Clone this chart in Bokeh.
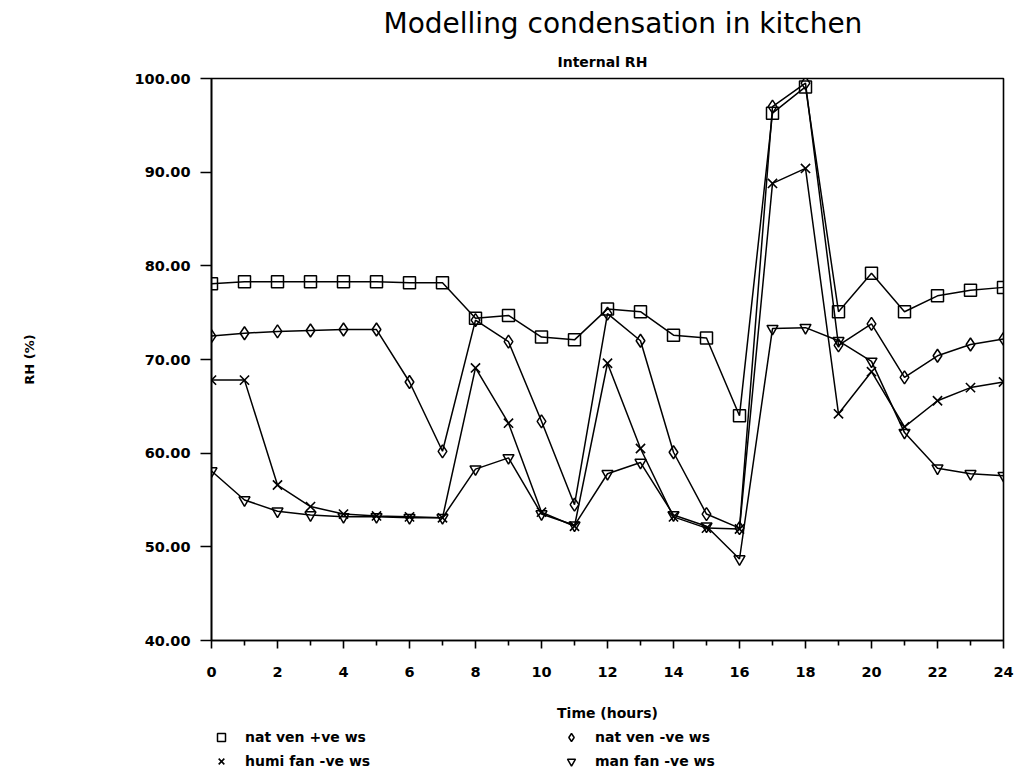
from bokeh.plotting import figure
from bokeh.layouts import column
from bokeh.models import (Range1d, FixedTicker, PrintfTickFormatter, Title,
                          Legend, LegendItem, ColumnDataSource)
from bokeh.embed import file_html
from bokeh.resources import INLINE

hours = list(range(25))
nat_ven_pos = [78.1, 78.3, 78.3, 78.3, 78.3, 78.3, 78.2, 78.2, 74.4, 74.7, 72.4, 72.1,
               75.4, 75.1, 72.6, 72.3, 64.0, 96.3, 99.1, 75.1, 79.2, 75.1, 76.8, 77.4, 77.7]
nat_ven_neg = [72.5, 72.8, 73.0, 73.1, 73.2, 73.2, 67.6, 60.2, 74.2, 71.9, 63.4, 54.5,
               74.9, 72.0, 60.1, 53.5, 52.0, 97.0, 99.5, 71.5, 73.8, 68.1, 70.4, 71.6, 72.2]
humi_fan_neg = [67.8, 67.8, 56.6, 54.3, 53.5, 53.3, 53.2, 53.1, 69.1, 63.2, 53.7, 52.2,
                69.6, 60.5, 53.2, 52.0, 51.9, 88.8, 90.4, 64.2, 68.7, 62.8, 65.6, 67.0, 67.6]
man_fan_neg = [58.1, 55.0, 53.8, 53.4, 53.2, 53.2, 53.1, 53.1, 58.3, 59.5, 53.5, 52.3,
               57.8, 59.0, 53.4, 52.2, 48.7, 73.3, 73.4, 72.0, 69.8, 62.2, 58.4, 57.8, 57.6]

series_names = ["nat ven +ve ws", "humi fan -ve ws", "nat ven -ve ws", "man fan -ve ws"]
x_major = [0, 2, 4, 6, 8, 10, 12, 14, 16, 18, 20, 22, 24]
x_minor = [1, 3, 5, 7, 9, 11, 13, 15, 17, 19, 21, 23]
y_ticks = [40, 50, 60, 70, 80, 90, 100]

FONT = "DejaVu Sans"

p = figure(width=1018, height=725, output_backend="svg", toolbar_location=None,
           x_range=Range1d(0, 24), y_range=Range1d(40, 100),
           min_border_left=211, min_border_right=15, min_border_top=77,
           min_border_bottom=85)
p.background_fill_color = "white"
p.border_fill_color = "white"
p.outline_line_color = "black"
p.outline_line_width = 1.6
p.xgrid.visible = False
p.ygrid.visible = False

for ax in (p.xaxis[0], p.yaxis[0]):
    ax.axis_line_color = "black"
    ax.axis_line_width = 1.6
    ax.major_tick_line_color = "black"
    ax.major_tick_line_width = 1.6
    ax.minor_tick_line_color = "black"
    ax.minor_tick_line_width = 1.6
    ax.major_tick_in = 0
    ax.minor_tick_in = 0
    ax.major_label_text_font = FONT
    ax.major_label_text_font_style = "bold"
    ax.major_label_text_font_size = "14.5px"
    ax.major_label_text_color = "black"
    ax.axis_label_text_font = FONT
    ax.axis_label_text_font_style = "bold"
    ax.axis_label_text_color = "black"

p.xaxis.ticker = FixedTicker(ticks=x_major, minor_ticks=x_minor)
p.xaxis.major_tick_out = 8
p.xaxis.minor_tick_out = 5
p.xaxis.major_label_standoff = 18
p.xaxis.axis_label = "Time (hours)"
p.xaxis.axis_label_text_font_size = "14px"
p.xaxis.axis_label_standoff = 25

p.yaxis.ticker = FixedTicker(ticks=y_ticks, minor_ticks=[])
p.yaxis.formatter = PrintfTickFormatter(format="%.2f")
p.yaxis.major_tick_out = 11
p.yaxis.minor_tick_out = 0
p.yaxis.major_label_standoff = 10
p.yaxis.axis_label = "RH (%)"
p.yaxis.axis_label_text_font_size = "13px"
p.yaxis.axis_label_standoff = 95

src = ColumnDataSource(dict(h=hours, a=nat_ven_pos, b=nat_ven_neg, c=humi_fan_neg, d=man_fan_neg))
LW = 1.5
SQ = dict(marker="square", size=12, fill_color="white", fill_alpha=0,
          line_color="black", line_width=1.5)
DI = dict(marker="diamond", size=13, fill_color="white", fill_alpha=0,
          line_color="black", line_width=1.5)
XX = dict(marker="x", size=13, line_color="black", line_width=1.6)
TR = dict(marker="inverted_triangle", size=11, fill_color="white", fill_alpha=0,
          line_color="black", line_width=1.5)

p.line("h", "a", source=src, line_color="black", line_width=LW)
p.line("h", "b", source=src, line_color="black", line_width=LW)
p.line("h", "c", source=src, line_color="black", line_width=LW)
p.line("h", "d", source=src, line_color="black", line_width=LW)
p.scatter("h", "a", source=src, **SQ)
p.scatter("h", "b", source=src, **DI)
p.scatter("h", "c", source=src, **XX)
p.scatter("h", "d", source=src, **TR)

p.add_layout(Title(text="Internal RH", align="left", offset=346, text_font=FONT,
                   text_font_size="14px", text_font_style="bold",
                   text_color="black", standoff=17), "above")
p.add_layout(Title(text="Modelling condensation in kitchen", align="left",
                   offset=172, text_font=FONT, text_font_size="28px",
                   text_font_style="normal", text_color="black", standoff=8), "above")

# legend strip below the chart
q = figure(width=1018, height=48, output_backend="svg", toolbar_location=None,
           x_range=Range1d(0, 1), y_range=Range1d(0, 1),
           x_axis_location=None, y_axis_location=None,
           min_border_left=211, min_border_right=15, min_border_top=0, min_border_bottom=0)
q.outline_line_color = None
q.xgrid.visible = False
q.ygrid.visible = False
offscreen = ColumnDataSource(dict(x=[-5], y=[-5]))
g_sq = q.scatter("x", "y", source=offscreen, **SQ)
g_di = q.scatter("x", "y", source=offscreen, **DI)
g_x = q.scatter("x", "y", source=offscreen, **XX)
g_tr = q.scatter("x", "y", source=offscreen, **TR)

legend = Legend(items=[LegendItem(label=series_names[0], renderers=[g_sq]),
                       LegendItem(label=series_names[2], renderers=[g_di]),
                       LegendItem(label=series_names[1], renderers=[g_x]),
                       LegendItem(label=series_names[3], renderers=[g_tr])],
                orientation="horizontal", nrows=2, location=(0, 2),
                border_line_color=None, background_fill_alpha=0,
                padding=0, margin=0, spacing=4, glyph_width=20, glyph_height=20,
                label_standoff=14, label_height=20, label_width=312,
                label_text_font=FONT, label_text_font_style="bold",
                label_text_font_size="14px", label_text_color="black")
q.add_layout(legend)

layout = column(p, q, spacing=0)
open("out.html", "w").write(file_html(layout, INLINE))
